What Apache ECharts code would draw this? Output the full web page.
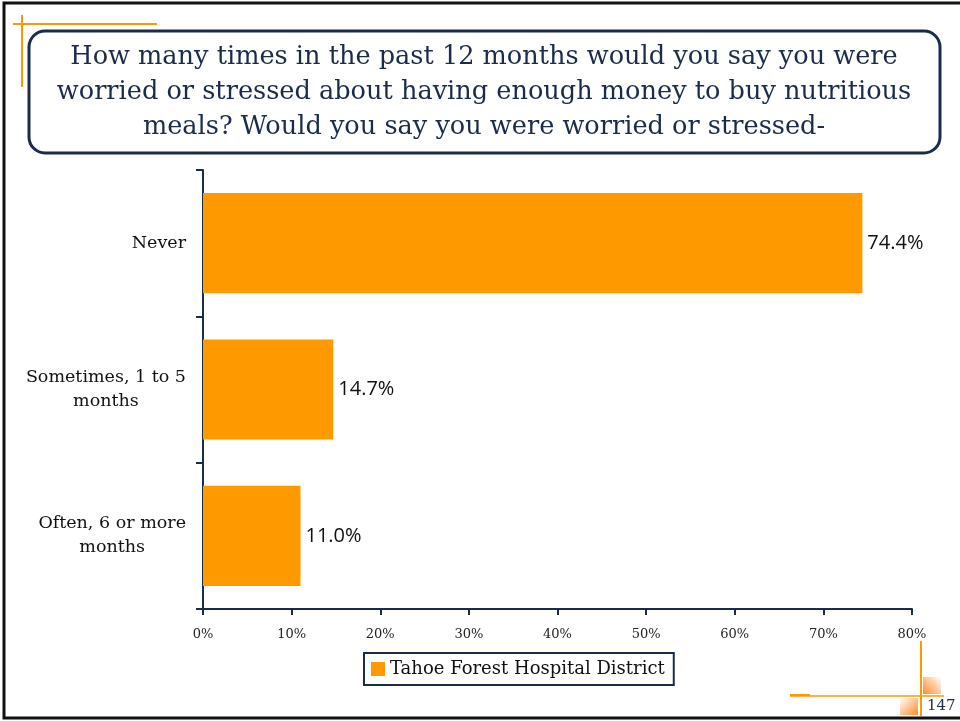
<!DOCTYPE html>
<html>
<head>
<meta charset="utf-8">
<script src="https://cdn.jsdelivr.net/npm/echarts@6/dist/echarts.min.js"></script>
<style>
  html, body { margin: 0; padding: 0; background: #fff; }
  #chart { width: 960px; height: 721px; }
</style>
</head>
<body>
<div id="chart"></div>
<script>
// Survey responses, share of respondents (%)
const categories = ['Never', 'Sometimes, 1 to 5\nmonths', 'Often, 6 or more\nmonths'];
const values = [74.4, 14.7, 11.0];
const seriesName = 'Tahoe Forest Hospital District';
const xTicks = [0, 10, 20, 30, 40, 50, 60, 70, 80];
const titleLines = [
  'How many times in the past 12 months would you say you were',
  'worried or stressed about having enough money to buy nutritious',
  'meals? Would you say you were worried or stressed-'
];
const pageNumber = '147';

const NAVY = '#1B2C4A';
const ORANGE = '#FF9900';
const SERIF = '"DejaVu Serif", "Liberation Serif", serif';

const chart = echarts.init(document.getElementById('chart'), null, { renderer: 'canvas' });

const option = {
  animation: false,
  backgroundColor: '#ffffff',
  grid: { left: 203, right: 48, top: 170, bottom: 112, containLabel: false },
  legend: {
    data: [seriesName],
    left: 364,
    top: 653,
    icon: 'rect',
    itemWidth: 14,
    itemHeight: 14,
    padding: [7, 9, 7, 7],
    borderColor: NAVY,
    borderWidth: 2,
    borderRadius: 0,
    textStyle: { fontFamily: SERIF, fontSize: 18, color: '#111' }
  },
  xAxis: {
    type: 'value',
    min: xTicks[0],
    max: xTicks[xTicks.length - 1],
    interval: 10,
    splitLine: { show: false },
    axisLine: { show: true, lineStyle: { color: NAVY, width: 2 } },
    axisTick: { show: true, length: 6, lineStyle: { color: NAVY, width: 2 } },
    axisLabel: {
      margin: 19,
      fontFamily: SERIF,
      fontSize: 13,
      color: '#222',
      formatter: v => v + '%'
    }
  },
  yAxis: {
    type: 'category',
    data: categories,
    inverse: true,
    axisLine: { show: true, lineStyle: { color: NAVY, width: 2 } },
    axisTick: { show: true, length: 7, alignWithLabel: false, lineStyle: { color: NAVY, width: 2 } },
    axisLabel: {
      margin: 17,
      fontFamily: SERIF,
      fontSize: 17.5,
      color: '#111',
      lineHeight: 24,
      formatter: v => v.split('\n').map(s => '{c|' + s + '}').join('\n'),
      rich: { c: { align: 'center', fontFamily: SERIF, fontSize: 17.5, color: '#111', lineHeight: 24 } }
    }
  },
  series: [{
    name: seriesName,
    type: 'bar',
    data: values,
    barCategoryGap: '31.6%',
    itemStyle: { color: ORANGE },
    label: {
      show: true,
      position: 'right',
      distance: 5,
      fontFamily: '"Open Sans", "Liberation Sans", sans-serif',
      fontSize: 20,
      color: '#111',
      formatter: p => p.value.toFixed(1) + '%'
    }
  }],
  graphic: [
    // outer page frame
    { type: 'polyline', shape: { points: [[963, 3], [4, 3], [4, 718], [963, 718]] },
      style: { stroke: '#111', lineWidth: 3, fill: null }, silent: true },
    // corner accents
    { type: 'line', shape: { x1: 13, y1: 24, x2: 157, y2: 24 }, style: { stroke: ORANGE, lineWidth: 2 } },
    { type: 'line', shape: { x1: 22, y1: 15, x2: 22, y2: 87 }, style: { stroke: ORANGE, lineWidth: 2 } },
    { type: 'line', shape: { x1: 790, y1: 696, x2: 944, y2: 696 }, style: { stroke: ORANGE, lineWidth: 1.5 } },
    { type: 'line', shape: { x1: 790, y1: 695, x2: 810, y2: 695 }, style: { stroke: ORANGE, lineWidth: 2 } },
    { type: 'line', shape: { x1: 921, y1: 641, x2: 921, y2: 716 }, style: { stroke: ORANGE, lineWidth: 2 } },
    { type: 'rect', shape: { x: 923, y: 677, width: 18, height: 17 },
      style: { fill: new echarts.graphic.LinearGradient(0, 1, 1, 0, [
        { offset: 0, color: '#FF8A2A' }, { offset: 1, color: '#FFFFFF' }]) } },
    { type: 'rect', shape: { x: 900, y: 698, width: 18, height: 17 },
      style: { fill: new echarts.graphic.LinearGradient(1, 1, 0, 0, [
        { offset: 0, color: '#FF8A2A' }, { offset: 1, color: '#FFFFFF' }]) } },
    { type: 'text', left: 927, top: 699,
      style: { text: pageNumber, fontFamily: SERIF, fontSize: 15, fill: NAVY } },
    // title box
    { type: 'rect', shape: { x: 29, y: 31, width: 911, height: 122, r: 16 },
      style: { fill: '#fff', stroke: NAVY, lineWidth: 3 } },
    { type: 'text', x: 484, y: 92,
      style: { text: titleLines.join('\n'), fontFamily: SERIF, fontSize: 25.6, lineHeight: 35,
        fill: NAVY, align: 'center', verticalAlign: 'middle' } }
  ]
};

chart.setOption(option);
</script>
</body>
</html>
